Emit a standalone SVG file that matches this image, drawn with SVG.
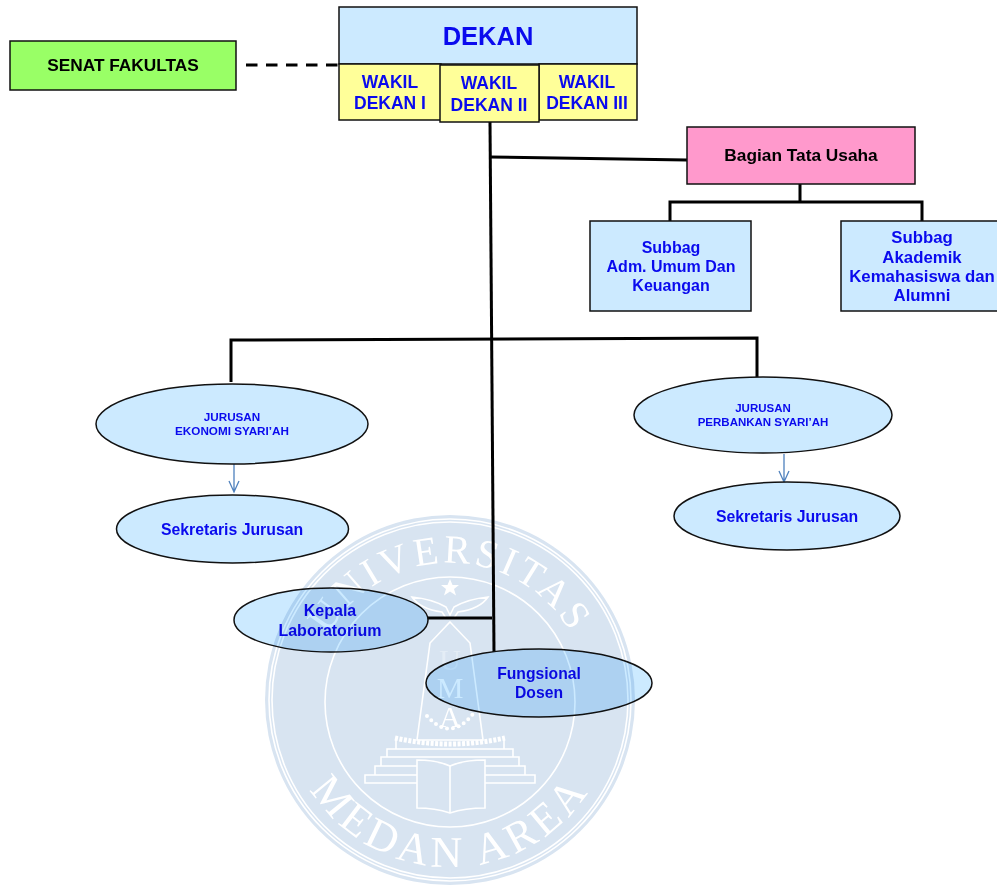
<svg xmlns="http://www.w3.org/2000/svg" width="997" height="888" viewBox="0 0 997 888">
<style>
text{font-family:"Liberation Sans",Arial,sans-serif;font-weight:700;text-anchor:middle;fill:#0a0aee}
.n{stroke:#111;stroke-width:1.5}
.b{fill:#cceaff}
.y{fill:#ffff99}
.l{fill:none;stroke:#000;stroke-width:3}
.a{fill:none;stroke:#4f81bd;stroke-width:1.3}
.w{mix-blend-mode:multiply}
.wl{fill:none;stroke:#fff;stroke-width:1.6}
.wt{font-family:"Liberation Serif",serif;font-weight:400;fill:#fff;text-anchor:middle}
.wu{font-family:"Liberation Serif",serif;font-weight:400;font-size:30px;fill:#fff}
</style>
<defs>
<path id="arcTop" d="M 311 702 A 139 139 0 0 1 589 702"/>
<path id="arcBot" d="M 285 702 A 165 165 0 0 0 615 702"/>
</defs>
<g id="connectors">
<path class="l" d="M490 122L494 652"/>
<path class="l" d="M490 157L687 160"/>
<path class="l" d="M800 184V202M670 221V202H922V221"/>
<path class="l" d="M231 382V340L757 338V377"/>
<path class="l" d="M428 618H492"/>
<path class="l" stroke-dasharray="11.500 8.500" d="M246 65H339"/>
<path class="a" d="M234 464V492M229 481L234 492L239 481"/>
<path class="a" d="M784 454V482M779 471L784 482L789 471"/>
</g>
<g id="senat"><rect class="n" x="10" y="41" width="226" height="49" fill="#99ff66"/><text x="123" y="71" font-size="17.300" style="fill:#000">SENAT FAKULTAS</text></g>
<g id="dekan"><rect class="n b" x="339" y="7" width="298" height="57"/><text x="488" y="45" font-size="25.500">DEKAN</text></g>
<g id="wakil1"><rect class="n y" x="339" y="64" width="102" height="56"/><text x="390" y="88" font-size="17.500">WAKIL</text><text x="390" y="109" font-size="17.500">DEKAN I</text></g>
<g id="wakil3"><rect class="n y" x="539" y="64" width="98" height="56"/><text x="587" y="88" font-size="17.500">WAKIL</text><text x="587" y="109" font-size="17.500">DEKAN III</text></g>
<g id="wakil2"><rect class="n y" x="440" y="65" width="99" height="57"/><text x="489" y="89" font-size="17.500">WAKIL</text><text x="489" y="111" font-size="17.500">DEKAN II</text></g>
<g id="tatausaha"><rect class="n" x="687" y="127" width="228" height="57" fill="#ff99cc"/><text x="801" y="161" font-size="17.300" style="fill:#000">Bagian Tata Usaha</text></g>
<g id="subbag1"><rect class="n b" x="590" y="221" width="161" height="90"/><text x="671" y="253" font-size="16">Subbag</text><text x="671" y="272" font-size="16">Adm. Umum Dan</text><text x="671" y="291" font-size="16">Keuangan</text></g>
<g id="subbag2"><rect class="n b" x="841" y="221" width="157" height="90"/><text x="922" y="243" font-size="16.800">Subbag</text><text x="922" y="263" font-size="16.800">Akademik</text><text x="922" y="282" font-size="16.800">Kemahasiswa dan</text><text x="922" y="301" font-size="16.800">Alumni</text></g>
<g id="jurusan1"><ellipse class="n b" cx="232" cy="424" rx="136" ry="40"/><text x="232" y="421" font-size="11.700">JURUSAN</text><text x="232" y="435" font-size="11.700">EKONOMI SYARI’AH</text></g>
<g id="sekretaris1"><ellipse class="n b" cx="232.500" cy="529" rx="116" ry="34"/><text x="232" y="535" font-size="15.800">Sekretaris Jurusan</text></g>
<g id="jurusan2"><ellipse class="n b" cx="763" cy="415" rx="129" ry="38"/><text x="763" y="412" font-size="11.500">JURUSAN</text><text x="763" y="426" font-size="11.500">PERBANKAN SYARI’AH</text></g>
<g id="sekretaris2"><ellipse class="n b" cx="787" cy="516" rx="113" ry="34"/><text x="787" y="522" font-size="15.800">Sekretaris Jurusan</text></g>
<g id="kepala"><ellipse class="n b" cx="331" cy="620" rx="97" ry="32"/><text x="330" y="616" font-size="16">Kepala</text><text x="330" y="636" font-size="16">Laboratorium</text></g>
<g id="fungsional"><ellipse class="n b" cx="539" cy="683" rx="113" ry="34"/><text x="539" y="679" font-size="15.700">Fungsional</text><text x="539" y="698" font-size="15.700">Dosen</text></g>
<g class="w">
<circle cx="450" cy="700" r="185" fill="#d8e4f1"/>
<circle class="wl" cx="450" cy="700" r="181"/>
<circle class="wl" cx="450" cy="700" r="178"/>
<circle class="wl" cx="450" cy="702" r="125"/>
<text class="wt" font-size="40" letter-spacing="3.400"><textPath href="#arcTop" startOffset="50%">UNIVERSITAS</textPath></text>
<text class="wt" font-size="44" letter-spacing="4.500"><textPath href="#arcBot" startOffset="50%">MEDAN AREA</textPath></text>
<path fill="#fff" d="M450 579l2.500 6h6.500l-5 4 2 6.500-6-4-6 4 2-6.500-5-4h6.500z"/>
<path class="wl" d="M412 597q20 2 34 10l4 8 4-8q14-8 34-10q-8 12-30 15l-4 6h-8l-4-6q-22-3-30-15z"/>
<path class="wl" d="M450 622l20 21 13 97h-66l13-97z"/>
<text class="wu" x="450" y="670" style="fill:#e4edf6">U</text>
<text class="wu" x="450" y="698">M</text>
<text class="wu" x="450" y="727">A</text>
<path d="M427 716q23 26 46-2" fill="none" stroke="#fff" stroke-width="4" stroke-linecap="round" stroke-dasharray="0 6"/>
<path d="M395 738q55 12 110 0" fill="none" stroke="#fff" stroke-width="5" stroke-dasharray="3 1.500"/>
<path class="wl" d="M396 738v11M504 738v11M387 749H513V757H387zM381 757H519V766H381zM375 766H525V775H375zM365 775H535V783H365z"/>
<path d="M417 760q20 0 33 6q13-6 35-6v48q-20 0-35 5q-15-5-33-5z" fill="#d8e4f1" stroke="#fff" stroke-width="1.600"/>
<path class="wl" d="M450 766v47"/>
</g>
</svg>
